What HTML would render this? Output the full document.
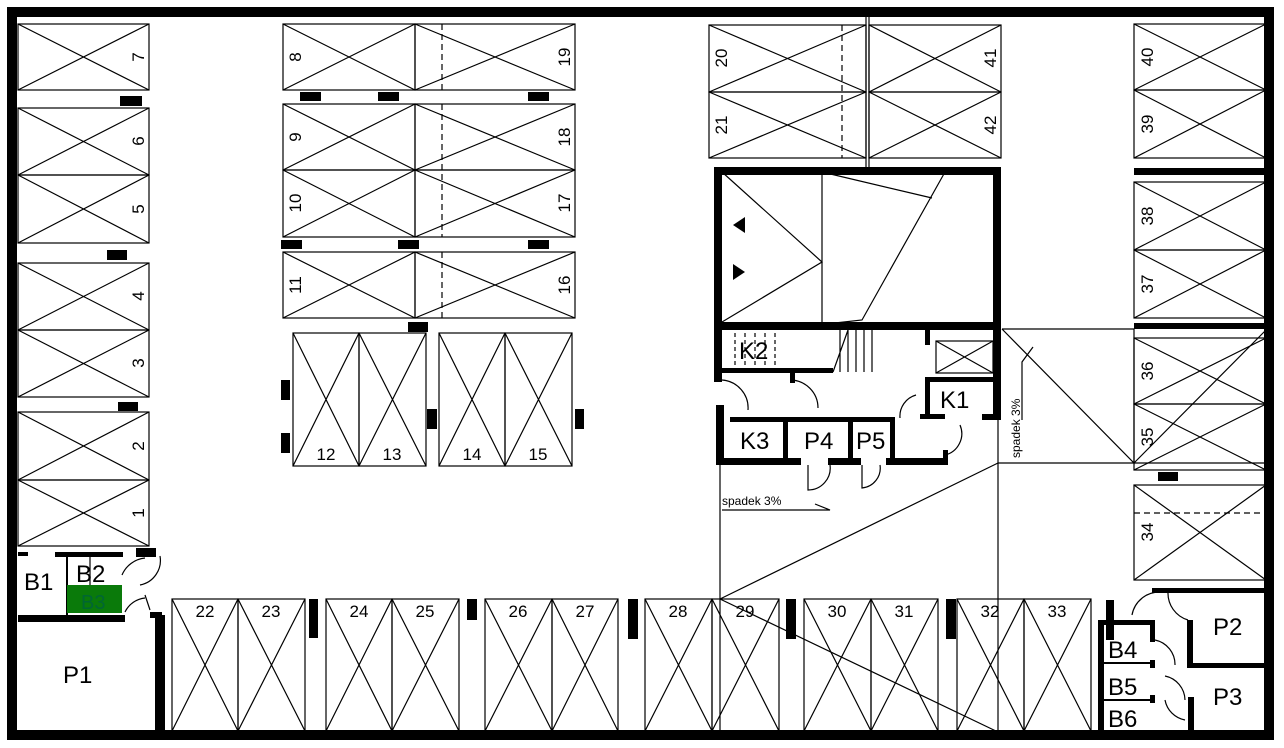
<!DOCTYPE html>
<html><head><meta charset="utf-8"><style>
html,body{margin:0;padding:0;background:#fff;}
svg{display:block;}
text{font-family:"Liberation Sans",sans-serif;fill:#000;}
.n{font-size:17px;}
.L{font-size:24px;}
</style></head><body>
<svg width="1284" height="748" viewBox="0 0 1284 748" xmlns="http://www.w3.org/2000/svg">
<rect width="1284" height="748" fill="#fff"/>
<rect x="12" y="12" width="1257" height="723" fill="none" stroke="#000" stroke-width="10"/>

<g fill="none" stroke="#000" stroke-width="1.2">
<rect x="18" y="24" width="131" height="66"/><path d="M18 24L149 90M18 90L149 24"/>
<rect x="18" y="108" width="131" height="67"/><path d="M18 108L149 175M18 175L149 108"/>
<rect x="18" y="175" width="131" height="68"/><path d="M18 175L149 243M18 243L149 175"/>
<rect x="18" y="263" width="131" height="67"/><path d="M18 263L149 330M18 330L149 263"/>
<rect x="18" y="330" width="131" height="67"/><path d="M18 330L149 397M18 397L149 330"/>
<rect x="18" y="412" width="131" height="68"/><path d="M18 412L149 480M18 480L149 412"/>
<rect x="18" y="480" width="131" height="66"/><path d="M18 480L149 546M18 546L149 480"/>

<rect x="283" y="24" width="132" height="66"/><path d="M283 24L415 90M283 90L415 24"/>
<rect x="415" y="24" width="160" height="66"/><path d="M415 24L575 90M415 90L575 24"/>
<rect x="283" y="104" width="132" height="66"/><path d="M283 104L415 170M283 170L415 104"/>
<rect x="415" y="104" width="160" height="66"/><path d="M415 104L575 170M415 170L575 104"/>
<rect x="283" y="170" width="132" height="67"/><path d="M283 170L415 237M283 237L415 170"/>
<rect x="415" y="170" width="160" height="67"/><path d="M415 170L575 237M415 237L575 170"/>
<rect x="283" y="252" width="132" height="66"/><path d="M283 252L415 318M283 318L415 252"/>
<rect x="415" y="252" width="160" height="66"/><path d="M415 252L575 318M415 318L575 252"/>
<path d="M442 24V90M442 104V237M442 252V318" stroke-dasharray="6,4"/>

<rect x="293" y="333" width="66" height="133"/><path d="M293 333L359 466M293 466L359 333"/>
<rect x="359" y="333" width="67" height="133"/><path d="M359 333L426 466M359 466L426 333"/>
<rect x="439" y="333" width="66" height="133"/><path d="M439 333L505 466M439 466L505 333"/>
<rect x="505" y="333" width="67" height="133"/><path d="M505 333L572 466M505 466L572 333"/>

<rect x="709" y="25" width="157" height="67"/><path d="M709 25L866 92M709 92L866 25"/>
<rect x="709" y="92" width="157" height="66"/><path d="M709 92L866 158M709 158L866 92"/>
<path d="M842 25V158" stroke-dasharray="6,4"/>
<rect x="869" y="25" width="132" height="67"/><path d="M869 25L1001 92M869 92L1001 25"/>
<rect x="869" y="92" width="132" height="66"/><path d="M869 92L1001 158M869 158L1001 92"/>
<path d="M866 17V167M869 17V167"/>

<rect x="1134" y="24" width="132" height="66"/><path d="M1134 24L1266 90M1134 90L1266 24"/>
<rect x="1134" y="90" width="132" height="68"/><path d="M1134 90L1266 158M1134 158L1266 90"/>
<rect x="1134" y="182" width="132" height="68"/><path d="M1134 182L1266 250M1134 250L1266 182"/>
<rect x="1134" y="250" width="132" height="68"/><path d="M1134 250L1266 318M1134 318L1266 250"/>
<rect x="1134" y="338" width="132" height="66"/><path d="M1134 338L1266 404M1134 404L1266 338"/>
<rect x="1134" y="404" width="132" height="66"/><path d="M1134 404L1266 470M1134 470L1266 404"/>
<rect x="1134" y="485" width="132" height="95"/><path d="M1134 485L1266 580M1134 580L1266 485"/>
<path d="M1134 513H1266" stroke-dasharray="6,4"/>

<path d="M1002 329H1134L1134 463L1002 329M1134 463L1266 330M998 463H1266"/>
<path d="M998 330V732M720 465V732"/>
<path d="M720 599L998 463M720 599L998 732"/>
<path d="M1022 420V362L1033 347" />
<path d="M722 510H830L815 504"/>

<rect x="172" y="599" width="66" height="132"/><path d="M172 599L238 731M172 731L238 599"/>
<rect x="238" y="599" width="67" height="132"/><path d="M238 599L305 731M238 731L305 599"/>
<rect x="326" y="599" width="66" height="132"/><path d="M326 599L392 731M326 731L392 599"/>
<rect x="392" y="599" width="67" height="132"/><path d="M392 599L459 731M392 731L459 599"/>
<rect x="485" y="599" width="67" height="132"/><path d="M485 599L552 731M485 731L552 599"/>
<rect x="552" y="599" width="66" height="132"/><path d="M552 599L618 731M552 731L618 599"/>
<rect x="645" y="599" width="67" height="132"/><path d="M645 599L712 731M645 731L712 599"/>
<rect x="712" y="599" width="67" height="132"/><path d="M712 599L779 731M712 731L779 599"/>
<rect x="804" y="599" width="67" height="132"/><path d="M804 599L871 731M804 731L871 599"/>
<rect x="871" y="599" width="67" height="132"/><path d="M871 599L938 731M871 731L938 599"/>
<rect x="957" y="599" width="67" height="132"/><path d="M957 599L1024 731M957 731L1024 599"/>
<rect x="1024" y="599" width="67" height="132"/><path d="M1024 599L1091 731M1024 731L1091 599"/>

<path d="M822 172V322M722 172L822 262L722 322M822 172L932 198M945 172L862 320L835 323"/>
<path d="M715 370H735M735 333V370M745 333V370M755 333V370M765 333V370M775 333V370" stroke-dasharray="4,3"/>
<path d="M840 330V372M848 330V372M856 330V372M864 330V372M872 330V372M833 372L848 330"/>
<rect x="936" y="341" width="57" height="32"/><path d="M936 341L993 373M936 373L993 341"/>
<path d="M722 380A28 28 0 0 1 748 410M790 380A28 28 0 0 1 818 408M916 395A22 22 0 0 0 900 418M960 425A22 22 0 0 1 945 455M808 465V490A22 22 0 0 0 830 465M862 465V488A20 20 0 0 0 880 465"/>
<path d="M90 555V590M160 556A25 25 0 0 1 140 585M122 575A28 28 0 0 1 145 558M145 595L150 610M125 612A25 25 0 0 1 145 598"/>
<path d="M1132 615A28 28 0 0 1 1160 592M1168 592A28 28 0 0 0 1188 620M1155 640A25 25 0 0 1 1175 665M1165 676A25 25 0 0 1 1185 700M1165 700A25 25 0 0 0 1185 720"/>
</g>

<g fill="#000">
<rect x="714" y="167" width="286" height="8"/>
<rect x="714" y="167" width="8" height="160"/>
<rect x="993" y="167" width="8" height="253"/>
<rect x="714" y="322" width="286" height="8"/>
<rect x="714" y="322" width="8" height="60"/>
<rect x="720" y="368" width="113" height="5"/>
<rect x="790" y="368" width="5" height="15"/>
<rect x="925" y="330" width="5" height="15"/>
<rect x="925" y="377" width="70" height="5"/>
<rect x="925" y="377" width="5" height="41"/>
<rect x="920" y="414" width="25" height="5"/>
<rect x="982" y="414" width="18" height="6"/>
<rect x="716" y="405" width="8" height="60"/>
<rect x="730" y="417" width="165" height="5"/>
<rect x="783" y="417" width="5" height="45"/>
<rect x="848" y="417" width="5" height="45"/>
<rect x="890" y="417" width="5" height="45"/>
<rect x="716" y="458" width="85" height="7"/>
<rect x="828" y="458" width="33" height="7"/>
<rect x="886" y="458" width="62" height="7"/>
<rect x="943" y="450" width="5" height="12"/>
<rect x="1134" y="168" width="132" height="7"/>
<rect x="1134" y="323" width="132" height="6"/>
<rect x="1152" y="588" width="114" height="5"/>
<rect x="1187" y="620" width="6" height="48"/>
<rect x="1190" y="663" width="76" height="5"/>
<rect x="1188" y="697" width="6" height="38"/>
<rect x="1098" y="620" width="6" height="115"/>
<rect x="1098" y="620" width="57" height="5"/>
<rect x="1106" y="600" width="8" height="40"/>
<rect x="1150" y="620" width="5" height="22"/>
<rect x="1100" y="662" width="55" height="2"/>
<rect x="1150" y="660" width="5" height="8"/>
<rect x="1100" y="699" width="55" height="2"/>
<rect x="1150" y="695" width="5" height="8"/>
<rect x="18" y="615" width="107" height="7"/>
<rect x="155" y="615" width="10" height="118"/>
<rect x="150" y="612" width="12" height="6"/>
<rect x="18" y="552" width="10" height="4"/>
<rect x="55" y="552" width="68" height="5"/>
<rect x="66" y="555" width="2" height="62"/>
<rect x="67" y="585" width="55" height="28" fill="#0a7a0a"/>
<rect x="120" y="96" width="22" height="10"/>
<rect x="107" y="250" width="20" height="10"/>
<rect x="118" y="402" width="20" height="9"/>
<rect x="136" y="548" width="20" height="9"/>
<rect x="300" y="92" width="21" height="9"/>
<rect x="378" y="92" width="21" height="9"/>
<rect x="528" y="92" width="21" height="9"/>
<rect x="281" y="240" width="21" height="9"/>
<rect x="398" y="240" width="21" height="9"/>
<rect x="528" y="240" width="21" height="9"/>
<rect x="408" y="322" width="20" height="10"/>
<rect x="281" y="380" width="9" height="20"/>
<rect x="281" y="433" width="9" height="20"/>
<rect x="427" y="409" width="10" height="20"/>
<rect x="575" y="409" width="9" height="20"/>
<rect x="1158" y="472" width="20" height="9"/>
<rect x="309" y="599" width="9" height="39"/>
<rect x="467" y="599" width="10" height="21"/>
<rect x="628" y="599" width="10" height="40"/>
<rect x="786" y="599" width="10" height="40"/>
<rect x="946" y="599" width="10" height="40"/>
</g>
<path d="M733 225L745 217V233Z M745 272L733 264V280Z" fill="#000"/>

<g class="n">
<text transform="translate(144,57) rotate(-90)" text-anchor="middle">7</text>
<text transform="translate(144,141) rotate(-90)" text-anchor="middle">6</text>
<text transform="translate(144,209) rotate(-90)" text-anchor="middle">5</text>
<text transform="translate(144,296) rotate(-90)" text-anchor="middle">4</text>
<text transform="translate(144,363) rotate(-90)" text-anchor="middle">3</text>
<text transform="translate(144,446) rotate(-90)" text-anchor="middle">2</text>
<text transform="translate(144,513) rotate(-90)" text-anchor="middle">1</text>
<text transform="translate(301,57) rotate(-90)" text-anchor="middle">8</text>
<text transform="translate(570,57) rotate(-90)" text-anchor="middle">19</text>
<text transform="translate(301,137) rotate(-90)" text-anchor="middle">9</text>
<text transform="translate(570,137) rotate(-90)" text-anchor="middle">18</text>
<text transform="translate(301,203) rotate(-90)" text-anchor="middle">10</text>
<text transform="translate(570,203) rotate(-90)" text-anchor="middle">17</text>
<text transform="translate(301,285) rotate(-90)" text-anchor="middle">11</text>
<text transform="translate(570,285) rotate(-90)" text-anchor="middle">16</text>
<text transform="translate(727,58) rotate(-90)" text-anchor="middle">20</text>
<text transform="translate(727,125) rotate(-90)" text-anchor="middle">21</text>
<text transform="translate(996,58) rotate(-90)" text-anchor="middle">41</text>
<text transform="translate(996,125) rotate(-90)" text-anchor="middle">42</text>
<text transform="translate(1153,57) rotate(-90)" text-anchor="middle">40</text>
<text transform="translate(1153,124) rotate(-90)" text-anchor="middle">39</text>
<text transform="translate(1153,216) rotate(-90)" text-anchor="middle">38</text>
<text transform="translate(1153,284) rotate(-90)" text-anchor="middle">37</text>
<text transform="translate(1153,371) rotate(-90)" text-anchor="middle">36</text>
<text transform="translate(1153,437) rotate(-90)" text-anchor="middle">35</text>
<text transform="translate(1153,532) rotate(-90)" text-anchor="middle">34</text>
</g>
<g class="n" text-anchor="middle">
<text x="326" y="460">12</text><text x="392" y="460">13</text><text x="472" y="460">14</text><text x="538" y="460">15</text>
<text x="205" y="617">22</text><text x="271" y="617">23</text><text x="359" y="617">24</text><text x="425" y="617">25</text>
<text x="518" y="617">26</text><text x="585" y="617">27</text><text x="678" y="617">28</text><text x="745" y="617">29</text>
<text x="837" y="617">30</text><text x="904" y="617">31</text><text x="990" y="617">32</text><text x="1057" y="617">33</text>
</g>
<text x="722" y="505" style="font-size:12px">spadek 3%</text>
<text transform="translate(1020,458) rotate(-90)" style="font-size:12px">spadek 3%</text>
<g class="L">
<text x="739" y="359">K2</text>
<text x="940" y="408">K1</text>
<text x="740" y="449">K3</text>
<text x="804" y="449">P4</text>
<text x="856" y="449">P5</text>
<text x="24" y="590">B1</text>
<text x="76" y="582">B2</text>
<text x="81" y="609" style="font-size:20px;fill:#063">B3</text>
<text x="63" y="683">P1</text>
<text x="1213" y="635">P2</text>
<text x="1213" y="705">P3</text>
<text x="1108" y="658">B4</text>
<text x="1108" y="695">B5</text>
<text x="1108" y="727">B6</text>
</g>
</svg>
</body></html>
